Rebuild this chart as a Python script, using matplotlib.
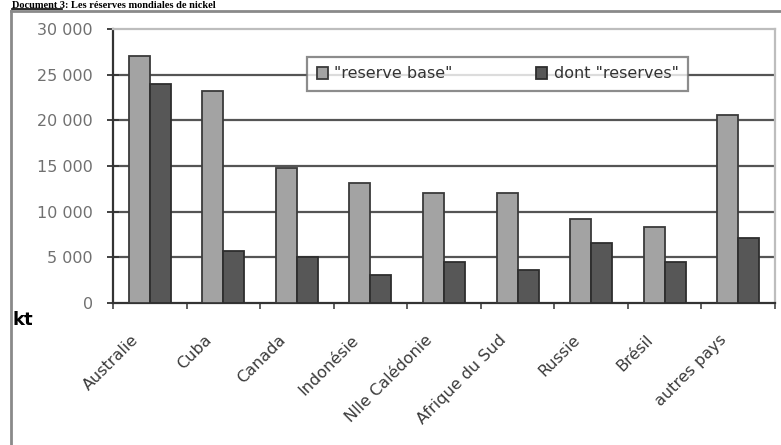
import matplotlib
matplotlib.use("Agg")
import matplotlib.pyplot as plt
import matplotlib.transforms as mtransforms
from matplotlib.lines import Line2D
from matplotlib.ticker import FuncFormatter
import numpy as np

# data (kt)
pays = ["Australie", "Cuba", "Canada", "Indonésie", "Nlle Calédonie",
        "Afrique du Sud", "Russie", "Brésil", "autres pays"]
reserve_base = [27000, 23200, 14800, 13100, 12000, 12000, 9200, 8300, 20600]
reserves = [24000, 5700, 5000, 3100, 4500, 3650, 6600, 4500, 7100]

W, H = 781, 445
fig = plt.figure(figsize=(W / 100, H / 100), dpi=100)
plt.rcParams['font.family'] = ['DejaVu Sans']

def fx(px):
    return px / W

def fy(py):
    return 1 - py / H

# axes area in pixel terms: left 113, right 775, top 29, bottom 303
ax = fig.add_axes([fx(113), fy(303), fx(775) - fx(113), fy(29) - fy(303)])

x = np.arange(len(pays))
w = 0.285
ax.bar(x - w / 2, reserve_base, w, color="#a3a3a3", edgecolor="#3a3a3a",
       linewidth=1.3, zorder=3, label='"reserve base"')
ax.bar(x + w / 2, reserves, w, color="#575757", edgecolor="#2e2e2e",
       linewidth=1.3, zorder=3, label='dont "reserves"')

ax.set_xlim(-0.5, len(pays) - 0.5)
ax.set_ylim(0, 30000)

# y axis
ax.set_yticks(range(0, 30001, 5000))
ax.yaxis.set_major_formatter(FuncFormatter(lambda v, p: f"{int(v):,}".replace(",", " ")))
ax.tick_params(axis="y", direction="inout", length=9, width=1.3, color="#333333",
               labelsize=11.5, labelcolor="#707070", pad=10)
for v in range(5000, 30000, 5000):
    ax.axhline(v, color="#555555", linewidth=1.6, zorder=1)

# x axis: ticks between categories, labels at centres
ax.set_xticks(x)
ax.set_xticks(np.arange(-0.5, len(pays), 1.0), minor=True)
ax.tick_params(axis="x", which="major", length=0, pad=25)
ax.tick_params(axis="x", which="minor", direction="out", length=4, width=1.2, color="#444444")
ax.set_xticklabels(pays, rotation=45, ha="right", va="center", rotation_mode="anchor",
                   fontsize=11.5, color="#3a3a3a")
shift = mtransforms.ScaledTranslation(-0.14, 0, fig.dpi_scale_trans)
for lab in ax.get_xticklabels():
    lab.set_transform(lab.get_transform() + shift)

for s in ["left", "bottom"]:
    ax.spines[s].set_color("#333333")
    ax.spines[s].set_linewidth(1.6)
for s in ["top", "right"]:
    ax.spines[s].set_color("#bdbdbd")
    ax.spines[s].set_linewidth(1.6)

# legend box, roughly x 307-688, y 53-95 in pixels
leg = ax.legend(loc="center left", ncol=2, mode="expand",
                bbox_to_anchor=(fx(307), fy(95), fx(688) - fx(307), fy(53) - fy(95)),
                bbox_transform=fig.transFigure, fontsize=11.5, frameon=True,
                fancybox=False, handlelength=0.7, handleheight=0.7,
                handletextpad=0.4, borderaxespad=0, borderpad=0.6)
leg.get_frame().set_edgecolor("#707070")
leg.get_frame().set_linewidth(1.6)
leg.set_zorder(5)
for t in leg.get_texts():
    t.set_color("#333333")

# "kt" unit
fig.text(fx(12), fy(320), "kt", fontsize=13, fontweight="bold", va="center", ha="left")

# outer frame (left and top edges visible)
fig.add_artist(Line2D([fx(11), fx(11)], [fy(11), 0], transform=fig.transFigure,
                      color="#8a8a8a", linewidth=2))
fig.add_artist(Line2D([fx(11), 1], [fy(11), fy(11)], transform=fig.transFigure,
                      color="#8a8a8a", linewidth=2))

# document title at the very top
fig.text(fx(12), fy(7.5), "Document 3: Les réserves mondiales de nickel",
         fontfamily="Liberation Serif", fontweight="bold", fontsize=7.5,
         va="baseline", ha="left", color="black")
fig.add_artist(Line2D([fx(12), fx(62)], [fy(9), fy(9)], transform=fig.transFigure,
                      color="black", linewidth=1.2))

fig.savefig("out.png", dpi=100)
